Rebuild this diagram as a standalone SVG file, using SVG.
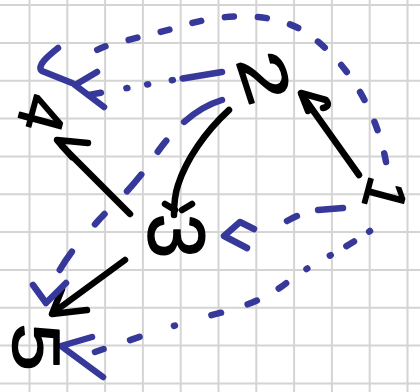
<svg xmlns="http://www.w3.org/2000/svg" width="420" height="392" viewBox="0 0 420 392">
<style>
.grid{stroke:#d4d4d4;stroke-width:2;fill:none}
.ink{stroke:#000;stroke-width:6.5;fill:none;stroke-linecap:round;stroke-linejoin:round}
.blue{stroke:#36389a;stroke-width:6.5;fill:none;stroke-linecap:round;stroke-linejoin:round}
.head{stroke-dasharray:none}
.lbl{font-family:"Liberation Sans",Arial,sans-serif;fill:#000;stroke:#000;stroke-width:1.5;stroke-linejoin:round;text-anchor:middle}
</style>
<rect width="420" height="392" fill="#fff"/>
<g id="grid">
<path class="grid" d="M29.5,0V392M67.3,0V392M105.1,0V392M142.9,0V392M180.7,0V392M218.5,0V392M256.3,0V392M294.1,0V392M331.9,0V392M369.7,0V392M407.5,0V392M0,5H420M0,42.9H420M0,80.7H420M0,118.6H420M0,156.4H420M0,194.3H420M0,232.1H420M0,270H420M0,307.8H420M0,345.6H420M0,383.5H420"/>
</g>
<g id="connectors">
<!-- 1 -> 2 -->
<path class="ink" d="M359,175 L302,95"/>
<path class="ink" d="M308,111 L301,93 L326,100 Q331,106 323,108"/>
<!-- 2 -> 3 -->
<path class="ink" d="M229,110 C205,132 186,160 178,185 C174,197 174,206 174,215"/>
<path class="ink" d="M165,204 L175,210 M192,204 L182,210"/>
<!-- 3 -> 4 -->
<path class="ink" d="M130,214 L62,146"/>
<path class="ink" d="M88,143 L57,140 L72,157"/>
<!-- 3 -> 5 -->
<path class="ink" d="M125,260 L54,312"/>
<path class="ink" d="M62,289 L52,314 L87,310"/>
<!-- 1 -> 4 (dashed arc over the top) -->
<path class="blue" stroke-dasharray="9 24" d="M386,162 C378,118 352,62 302,30 C266,10 216,14 176,28 L112,44 C100,48 92,52 85,57"/>
<path class="blue head" d="M58,48 C48,56 36,66 42,71 L72,83"/>
<!-- 2 -> 4 -->
<path class="blue" stroke-dasharray="40 10 1 24 1 20 1 26 12" d="M222,72 Q160,82 88,95"/>
<path class="blue head" d="M97,72 L75,85 L104,107"/>
<!-- 2 -> 5 -->
<path class="blue" stroke-dasharray="44 26 14 28 22 32 14 36 22" d="M222,100 C195,108 172,130 152,160 C130,192 112,205 97,222 C80,242 66,255 52,285"/>
<path class="blue head" d="M33,285 L46,303 L66,283"/>
<!-- 1 -> 3 -->
<path class="blue" stroke-dasharray="25 22 13 40" d="M343,208 L318,210 C305,212 296,216 287,221"/>
<path class="blue head" d="M254,229 L240,222 L224,236 L247,248"/>
<!-- 1 -> 5 -->
<path class="blue" stroke-dasharray="1 18 9 18 1 26 1 25 9 25 10 28 10 38 1 36 10 28 10 24 8" d="M370,231 C340,252 308,266 290,280 C276,292 258,302 228,311 C190,320 150,333 95,352"/>
<path class="blue head" d="M92,337 L61,346 L103,377"/>
</g>
<g id="node1"><text class="lbl" font-size="58" transform="translate(386,195) rotate(105)" y="21">1</text></g>
<g id="node2"><text class="lbl" font-size="64" transform="translate(265,77) rotate(72) scale(1.4,1)" y="23">2</text></g>
<g id="node3"><text class="lbl" font-size="80" transform="translate(178,236) rotate(90)" y="29">3</text></g>
<g id="node4"><text class="lbl" font-size="64" transform="translate(43,114) rotate(105)" y="23">4</text></g>
<g id="node5"><text class="lbl" font-size="66" transform="translate(37,347) rotate(90) scale(1.3,1)" y="24">5</text></g>
</svg>
